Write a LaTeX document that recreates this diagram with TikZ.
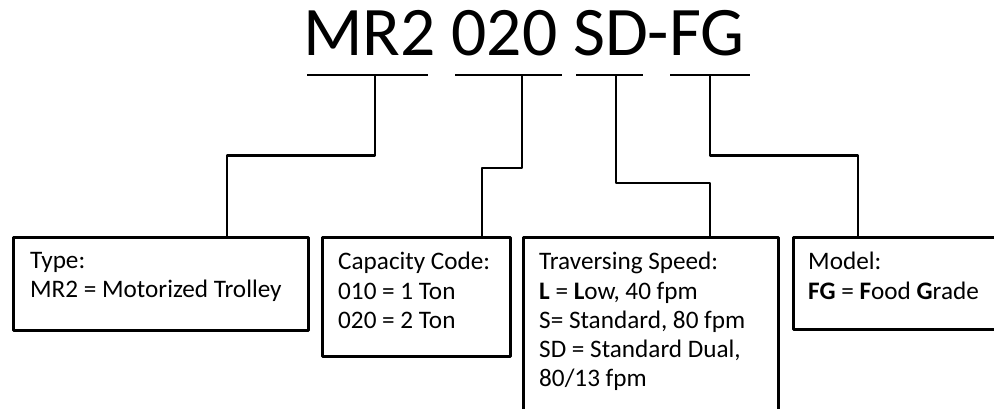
\documentclass[tikz,border=0pt]{standalone}
\usepackage{fontspec}
\setmainfont{Carlito}
\begin{document}
\begin{tikzpicture}[x=1pt,y=-1pt,
  conn/.style={line width=2.7pt,line join=round},
  codebox/.style={draw,line width=2.8pt,line join=round,rectangle,anchor=north west,inner sep=0pt},
  desc/.style={font=\fontsize{25.2}{29.3}\selectfont,anchor=north west,inner sep=0pt,align=left},
  title/.style={font=\fontsize{69.6}{80}\selectfont,anchor=base west,inner sep=0pt}]
\useasboundingbox[fill=white] (0,0) rectangle (994,408);
% title
\node[title] (code) at (303,55) {MR2 020 SD-FG};
% underlines
\draw[conn] (307,75) -- (428,75);
\draw[conn] (455,75) -- (562,75);
\draw[conn] (576,75) -- (643,75);
\draw[conn] (670,75) -- (750,75);
\coordinate (u1) at (375,75);
\coordinate (u2) at (522,75);
\coordinate (u3) at (616,75);
\coordinate (u4) at (710,75);
% bends
\coordinate (k1) at (227,155.7);
\coordinate (k2) at (482,168);
\coordinate (k3) at (710,183);
\coordinate (k4) at (858,155.7);
% boxes
\node[codebox,minimum width=295pt,minimum height=93pt] (type) at (12,236) {};
\node[codebox,minimum width=188pt,minimum height=119pt] (cap) at (321,236) {};
\node[codebox,minimum width=255pt,minimum height=190pt] (speed) at (522,236) {};
\node[codebox,minimum width=220pt,minimum height=92pt] (model) at (792,236) {};
% texts
\node[desc] (ttype) at (30,252) {Type:\\MR2 = Motorized Trolley};
\node[desc] (tcap) at (338,252) {Capacity Code:\\010 = 1 Ton\\020 = 2 Ton};
\node[desc] (tspeed) at (539,252) {Traversing Speed:\\\textbf{L} = \textbf{L}ow, 40 fpm\\S= Standard, 80 fpm\\SD = Standard Dual,\\80/13 fpm};
\node[desc] (tmodel) at (808,252) {Model:\\\textbf{FG} = \textbf{F}ood \textbf{G}rade};
% connectors
\draw[conn] (u1) |- (k1) -- (k1 |- type.north);
\draw[conn] (u2) |- (k2) -- (k2 |- cap.north);
\draw[conn] (u3) |- (k3) -- (k3 |- speed.north);
\draw[conn] (u4) |- (k4) -- (k4 |- model.north);
\end{tikzpicture}
\end{document}
